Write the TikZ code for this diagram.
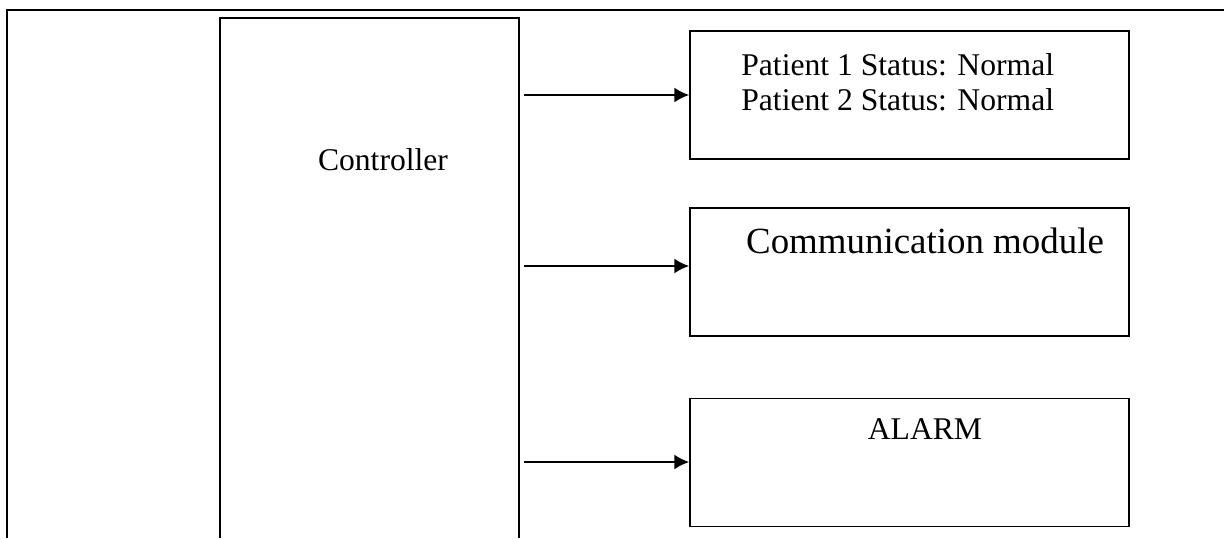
\documentclass[tikz,border=0pt]{standalone}
\usepackage{fontspec}
\setmainfont{Liberation Serif}
\usetikzlibrary{arrows.meta}

\begin{document}
\begin{tikzpicture}[x=0.02cm,y=-0.02cm]
  \tikzstyle{frame}=[draw,line width=1.1pt]
  \tikzstyle{block}=[draw,line width=0.9pt,minimum width=8.78cm,minimum height=2.56cm,inner sep=0pt]
  \tikzstyle{txt}=[inner sep=0pt,font=\fontsize{18}{21.6}\selectfont]
  \tikzstyle{line} = [draw, line width=1.1pt, -{Latex[length=0.3cm,width=0.3cm]}]
  \useasboundingbox (0,0) rectangle (1224,538);
  % outer frame
  \draw[frame] (7,538) -- (7,10) -- (1224,10);
  % controller
  \draw[frame] (220,538) -- (220,18) -- (519,18) -- (519,538);
  \node[txt,anchor=base] (ctrl) at (383,170) {Controller};
  % outputs
  \node[block] (status) at (909.5,95) {};
  \node[block] (comm) at (909.5,272) {};
  \node[block] (alarm) at (909.5,462.5) {};
  \node[txt,anchor=base west] (pat1) at (741,75) {Patient 1 Status: Normal};
  \node[txt,anchor=base west] (pat2) at (741,110) {Patient 2 Status: Normal};
  \node[txt,anchor=base,font=\fontsize{21}{25}\selectfont] (commlabel) at (925,253) {Communication module};
  \node[txt,anchor=base] (alarmlabel) at (925,439) {ALARM};
  % arrows
  \coordinate (c1) at (524,95);
  \coordinate (c2) at (524,266);
  \coordinate (c3) at (524,462);
  \draw[line] (c1) -- (status.west |- c1);
  \draw[line] (c2) -- (comm.west |- c2);
  \draw[line] (c3) -- (alarm.west |- c3);
\end{tikzpicture}
\end{document}
